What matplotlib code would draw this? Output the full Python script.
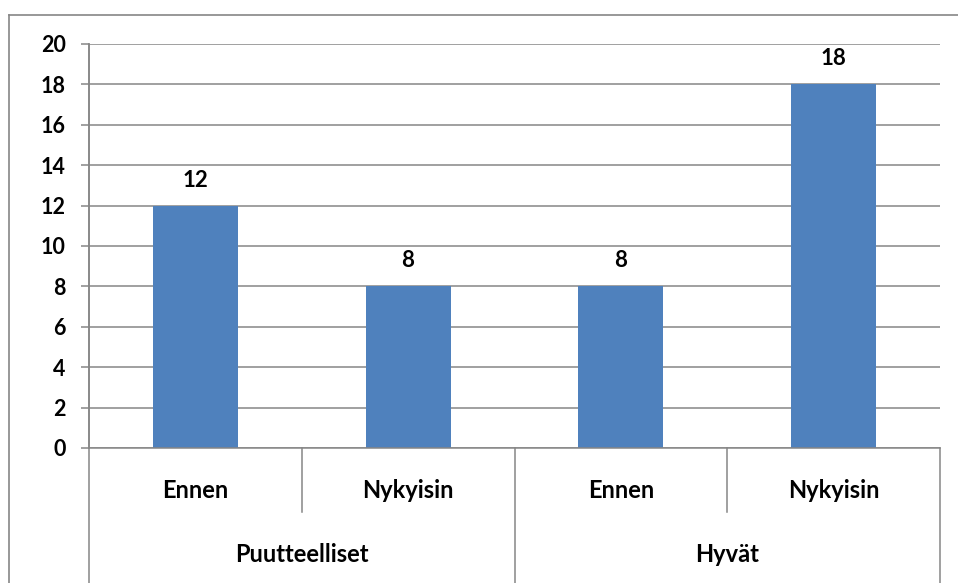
import matplotlib.pyplot as plt
from matplotlib.lines import Line2D

# data
sub_labels = ['Ennen', 'Nykyisin', 'Ennen', 'Nykyisin']
group_labels = ['Puutteelliset', 'Hyvät']
values = [12, 8, 8, 18]
yticks = list(range(0, 21, 2))

BAR = '#4F81BD'
GRID = '#868686'
plt.rcParams['font.family'] = ['Lato', 'DejaVu Sans']
plt.rcParams['font.weight'] = 'bold'

W, H = 958, 583
fig = plt.figure(figsize=(W / 100, H / 100), dpi=100, facecolor='white')
ax = fig.add_axes([89 / W, (H - 448) / H, (940 - 89) / W, 404 / H])

x = list(range(len(values)))
ax.bar(x, values, width=0.4, color=BAR, zorder=3)
for xi, v in zip(x, values):
    ax.annotate(str(v), (xi, v), xytext=(0, 19 * 0.72), textcoords='offset points',
                ha='center', va='baseline', fontsize=16, fontweight='bold')

ax.set_xlim(-0.5, 3.5)
ax.set_ylim(0, 20)
ax.set_yticks(yticks)
ax.yaxis.grid(True, color=GRID, linewidth=1.1, zorder=0)
ax.tick_params(axis='y', length=8 * 0.72, width=1.1, color=GRID, pad=11, labelsize=15.5)
ax.set_xticks([])
for s in ['top', 'right', 'bottom']:
    ax.spines[s].set_visible(False)
ax.spines['left'].set_color(GRID)
ax.spines['left'].set_linewidth(1.1)
ax.spines['left'].set_bounds(0, 20)
for lab in ax.get_yticklabels():
    lab.set_fontweight('bold')

# multi-level category axis
tr = ax.get_xaxis_transform()
low = (448 - 583) / 404
for xd in [0.5, 2.5]:
    ax.add_line(Line2D([xd, xd], [0, (448 - 512) / 404], transform=tr,
                       color=GRID, linewidth=1.1, clip_on=False))
for xd in [-0.5, 1.5, 3.5]:
    ax.add_line(Line2D([xd, xd], [1 if xd == -0.5 else 0, low], transform=tr,
                       color=GRID, linewidth=1.1, clip_on=False))
ax.add_line(Line2D([-0.5, 3.5], [0, 0], transform=tr, color=GRID,
                   linewidth=1.1, clip_on=False, zorder=4))
for xi, lab in zip(x, sub_labels):
    ax.text(xi, (448 - 491) / 404, lab, transform=tr, ha='center', va='center',
            fontsize=17, fontweight='bold')
for gi, lab in enumerate(group_labels):
    ax.text(gi * 2 + 0.5, (448 - 555) / 404, lab, transform=tr, ha='center',
            va='center', fontsize=17, fontweight='bold')

# outer chart frame (left and top visible)
fig.add_artist(Line2D([9 / W, 9 / W], [0, (H - 15) / H], color=GRID, linewidth=1.2))
fig.add_artist(Line2D([9 / W, 1], [(H - 15) / H, (H - 15) / H], color=GRID, linewidth=1.2))

fig.savefig('out.png', dpi=100, facecolor='white')
